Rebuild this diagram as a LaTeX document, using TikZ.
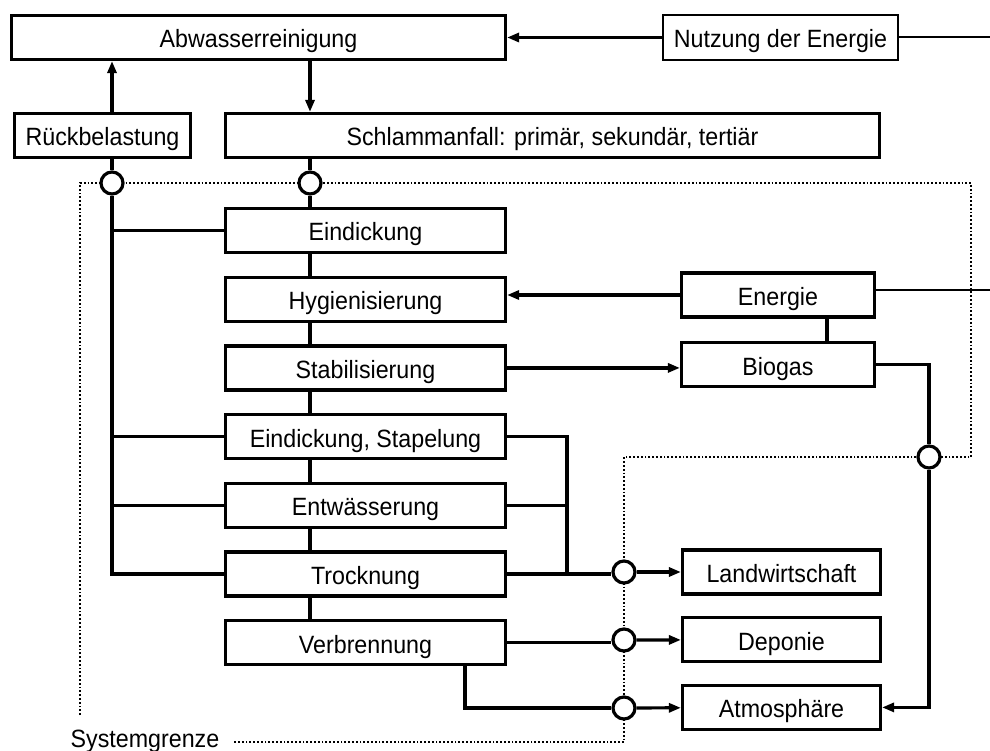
\documentclass[tikz,border=0pt]{standalone}
\usepackage{fontspec}
\setmainfont{Liberation Sans}[FakeStretch=0.93]
\usetikzlibrary{arrows.meta, positioning}
\usepackage{xcolor}

\begin{document}
\begin{tikzpicture}[
x=1pt, y=-1pt,
node distance=21.5pt,
font=\fontsize{25}{29}\selectfont,
box/.style={draw,
rectangle,
line width=3.2pt,
minimum height=44pt,
text height=21pt,
text depth=0pt,
inner sep=0pt,
align=center},
stepbox/.style={box, minimum width=280pt},
outbox/.style={box, minimum width=198pt},
knot/.style={draw, circle, line width=3.2pt, fill=white, minimum size=22pt, inner sep=0pt},
line/.style={line width=3.2pt},
thinline/.style={line width=2pt},
arrow/.style={-{Triangle[length=12pt, width=9pt]}, line width=3.2pt},
grenze/.style={dotted, line width=1.8pt}
]

\useasboundingbox (0,0) rectangle (990,751);

% oben
\node[box, minimum width=494pt] (abw) at (258.5,37.5) {Abwasserreinigung};
\node[box, minimum width=235pt, line width=2pt, minimum height=45pt] (nutz) at (780.5,37.5) {Nutzung der Energie};
\node[box, minimum width=176pt] (rueck) at (102.5,135.5) {Rückbelastung};
\node[box, minimum width=654pt] (schlamm) at (552.5,135.5) {Schlammanfall: primär, sekundär, tertiär};

% Schlammbehandlung
\node[stepbox] (eind) at (365.5,230.5) {Eindickung};
\node[stepbox, below=of eind] (hyg) {Hygienisierung};
\node[stepbox, below=of hyg] (stab) {Stabilisierung};
\node[stepbox, below=of stab] (eindst) {Eindickung, Stapelung};
\node[stepbox, below=of eindst] (entw) {Entwässerung};
\node[stepbox, below=of entw] (trock) {Trocknung};
\node[stepbox, below=of trock] (verbr) {Verbrennung};

% Energie
\node[box, minimum width=193pt] (energie) at (778,295) {Energie};
\node[box, minimum width=193pt] (biogas) at (778,364.5) {Biogas};

% Verbleib
\node[outbox] (landw) at (781.5,572) {Landwirtschaft};
\node[outbox, below=20.5pt of landw] (deponie) {Deponie};
\node[outbox, below=20.5pt of deponie] (atmo) {Atmosphäre};

% Systemgrenze
\node (sysg) at (145,741) {Systemgrenze};
\draw[grenze] (80,715) -- (80,183) -- (971,183) -- (971,457) -- (624,457) -- (624,742) -- ([xshift=10pt]sysg.east |- 0,742);

\node[knot] (k1) at (112,183) {};
\node[knot] (k2) at (310,183) {};
\node[knot] (k3) at (929,457) {};
\node[knot] (k4) at (624,572) {};
\node[knot] (k5) at (624,640) {};
\node[knot] (k6) at (624,708) {};

\coordinate (randA) at (990,37.5);
\coordinate (randB) at (990,290);
\coordinate (sammel) at (567,572);

% Verbindungen
\draw[arrow] (nutz.west) -- (abw.east);
\draw[thinline] (nutz.east) -- (randA);
\draw[arrow] (k1 |- rueck.north) -- (k1 |- abw.south);
\draw[arrow] (k2 |- abw.south) -- (k2 |- schlamm.north);
\draw[line] (k1 |- rueck.south) -- (k1);
\draw[line] (k2 |- schlamm.south) -- (k2);
\draw[line] (k2) -- (k2 |- eind.north);
\draw[line] (k1) |- (trock.west);
\foreach \s in {eind, eindst, entw}
  \draw[line] (k1 |- \s.west) -- (\s.west);
\foreach \a/\b in {eind/hyg, hyg/stab, stab/eindst, eindst/entw, entw/trock, trock/verbr}
  \draw[line] (k2 |- \a.south) -- (k2 |- \b.north);

\draw[arrow] (energie.west) -- (energie.west -| hyg.east);
\draw[arrow] (stab.east) -- (stab.east -| biogas.west);
\draw[line] ([xshift=49pt]energie.south) -- ([xshift=49pt]biogas.north);
\draw[thinline] ([yshift=5pt]energie.east) -- (randB);
\draw[line] (biogas.east) -| (k3);
\draw[arrow] (k3) |- (atmo.east);

\draw[line] (eindst.east) -| (sammel);
\draw[line] (entw.east) -- (entw.east -| sammel);
\draw[line] (trock.east) -- (trock.east -| k4.west);
\draw[arrow] (k4) -- (landw);
\draw[line] (verbr.east) -- (verbr.east -| k5.west);
\draw[arrow] (k5) -- (deponie);
\draw[line] ([xshift=99.5pt]verbr.south) |- (k6);
\draw[arrow] (k6) -- (atmo);

\end{tikzpicture}
\end{document}
